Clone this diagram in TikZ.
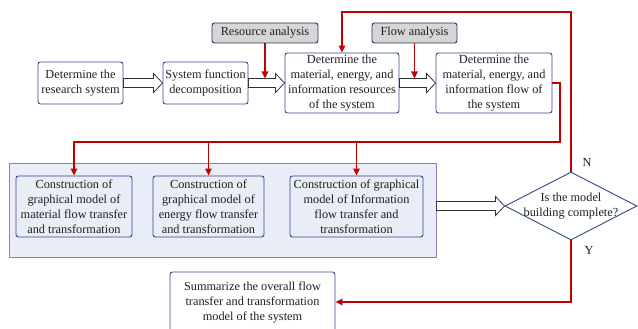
\documentclass[tikz,border=0pt]{standalone}
\usepackage{fontspec}
\setmainfont{Liberation Serif}
\usepackage{tikz}
\usetikzlibrary{calc}
\usetikzlibrary{arrows.meta}
\usetikzlibrary{shapes.geometric}

\definecolor{boxblue}{HTML}{2F4A87}
\definecolor{flowred}{HTML}{C00000}
\definecolor{panel}{HTML}{E9EDF5}
\definecolor{panelrim}{HTML}{9B72CC}
\definecolor{tag}{HTML}{D6D6D6}

% hollow block arrow between two points at the same height
\newcommand{\fatarrow}[2]{%
  \draw[fat] ($#1+(0,-4.5)$) -- ($#2+(-9,-4.5)$) -- ($#2+(-9,-9.5)$) -- #2
    -- ($#2+(-9,9.5)$) -- ($#2+(-9,4.5)$) -- ($#1+(0,4.5)$) -- cycle;}

\begin{document}
\begin{tikzpicture}[x=1pt,y=-1pt,
    txt/.style={font=\fontsize{12.3}{15}\selectfont,align=center,text=black!88},
    box/.style={txt,draw=boxblue,line width=0.9pt,rounded corners=2.5pt,inner sep=0pt},
    tagbox/.style={box,fill=tag,draw=boxblue!70!black},
    fat/.style={draw=black!80,fill=white,line width=0.8pt,line join=miter},
    redline/.style={draw=flowred,line width=1.4pt},
    redarr/.style={redline,-{Triangle[length=7pt,width=6.5pt]}}]
    \useasboundingbox (0,0) rectangle (638,329);

    % first row
    \node[box,minimum width=85,minimum height=42] (d_sys) at (80.5,83) {Determine the\\research system};
    \node[box,minimum width=85,minimum height=42] (s_dec) at (205.5,83) {System function\\decomposition};
    \node[box,minimum width=114,minimum height=60] (d_res) at (342,83) {Determine the\\material, energy, and\\information resources\\of the system};
    \node[box,minimum width=116,minimum height=60] (d_flow) at (494,83) {Determine the\\material, energy, and\\information flow of\\the system};
    \node[tagbox,minimum width=106,minimum height=20] (res_an) at (265,33) {Resource analysis};
    \node[tagbox,minimum width=85,minimum height=20] (flow_an) at (414.5,33) {Flow analysis};

    \fatarrow{(d_sys.east)}{(s_dec.west)}
    \fatarrow{(s_dec.east)}{(d_res.west)}
    \fatarrow{(d_res.east)}{(d_flow.west)}

    \coordinate (res_in) at (265,78.5);
    \coordinate (flow_in) at (414.5,78.5);
    \draw[redarr] (res_an.south) -- (res_in);
    \draw[redarr] (flow_an.south) -- (flow_in);

    % panel with the three graphical models
    \node[draw=panelrim,fill=panel,line width=0.9pt,minimum width=427,minimum height=94,inner sep=0pt] (panel) at (222.5,210) {};
    \node[box,minimum width=116,minimum height=61] (m_mat) at (74,206.5) {Construction of\\graphical model of\\material flow transfer\\and transformation};
    \node[box,minimum width=111,minimum height=61] (m_en) at (208.5,206.5) {Construction of\\graphical model of\\energy flow transfer\\and transformation};
    \node[box,minimum width=133,minimum height=61] (m_inf) at (356.5,206.5) {Construction of graphical\\model of Information\\flow transfer and\\transformation};

    % decision
    \node[diamond,draw=boxblue,line width=0.9pt,minimum width=132,minimum height=68,inner sep=0pt] (dec) at (571,206) {};
    \node[txt] (dec_txt) at (dec) {Is the model\\building complete?};
    \coordinate (panel_out) at (panel.east |- dec.west);
    \fatarrow{(panel_out)}{(dec.west)}

    \node[box,minimum width=165,minimum height=60] (summ) at (252.5,302) {Summarize the overall flow\\transfer and transformation\\model of the system};

    % red connectors
    \coordinate (bus) at (560,142);
    \coordinate (loop) at (571,12);
    \draw[redarr] (d_flow.east) -| (bus) -- (bus -| m_mat.north) -- (m_mat.north);
    \draw[redarr] (bus -| m_en.north) -- (m_en.north);
    \draw[redarr] (bus -| m_inf.north) -- (m_inf.north);
    \draw[redarr] (dec.north) -- (loop) -| (d_res.north);
    \draw[redarr] (dec.south) |- (summ.east);

    \node[txt] (lab_n) at (587,162) {N};
    \node[txt] (lab_y) at (589,250) {Y};
\end{tikzpicture}
\end{document}
